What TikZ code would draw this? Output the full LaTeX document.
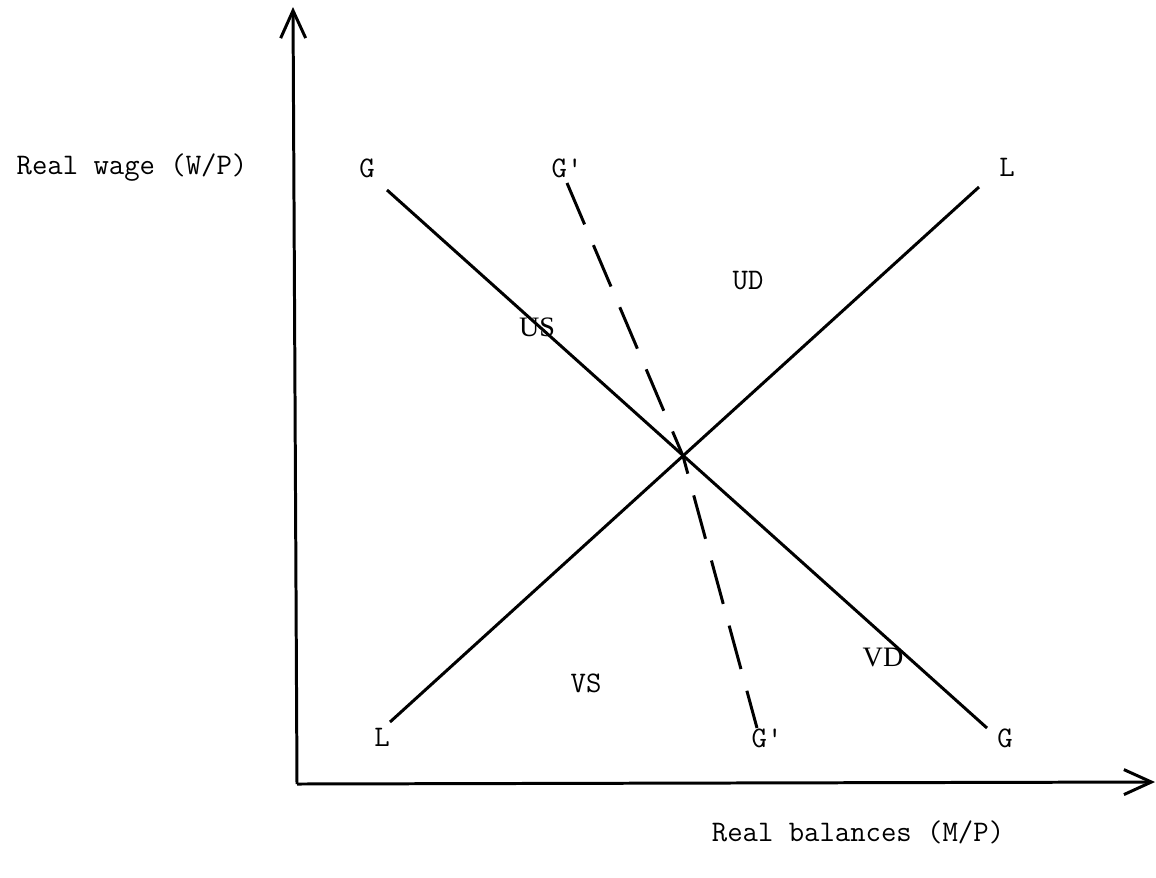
\documentclass[tikz,border=0pt]{standalone}
\usepackage{fontspec}
\setmainfont{Liberation Serif}
\usetikzlibrary{arrows.meta}
\tikzset{
  curve/.style={line width=1.7pt},
  gdash/.style={line width=1.7pt,dash pattern=on 0.9cm off 0.45cm},
  tlab/.style={font=\ttfamily\fontsize{17}{20}\selectfont},
  slab/.style={font=\fontsize{16}{18}\selectfont},
}
\begin{document}
\begin{tikzpicture}[x=0.02cm,y=-0.02cm,>={Straight Barb[length=5.5mm,width=5mm]}]
\useasboundingbox (0,0) rectangle (1156,877);
% axes
\coordinate (O) at (297,784);
\coordinate (ytop) at (293,7);
\coordinate (xend) at (1155,782);
\draw[curve,->] (O) -- (ytop);
\draw[curve,->] (O) -- (xend);
\node[tlab] (ylab) at (132,168) {Real wage (W/P)};
\node[tlab] (xlab) at (858,832) {Real balances (M/P)};
% curves
\coordinate (E) at (683,456);
\node[tlab] (Gtop) at (367,168) {G};
\node[tlab] (Gbot) at (1005,738) {G};
\node[tlab] (Ltop) at (1007,167) {L};
\node[tlab] (Lbot) at (382,737) {L};
\node[tlab] (Gptop) at (567,168) {G'};
\node[tlab] (Gpbot) at (767,738) {G'};
\coordinate (g1) at (387,190);
\coordinate (g2) at (987,728);
\coordinate (l1) at (390,722);
\coordinate (l2) at (979,187);
\coordinate (p1) at (567,183);
\coordinate (p2) at (757,728);
\draw[curve] (g1) -- (g2);
\draw[curve] (l1) -- (l2);
\draw[gdash] (p1) -- (E) -- (p2);
% regions
\node[tlab] (UD) at (748,281) {UD};
\node[slab] (US) at (537,327) {US};
\node[tlab] (VS) at (586,683) {VS};
\node[slab] (VD) at (883,657) {VD};
\end{tikzpicture}
\end{document}
